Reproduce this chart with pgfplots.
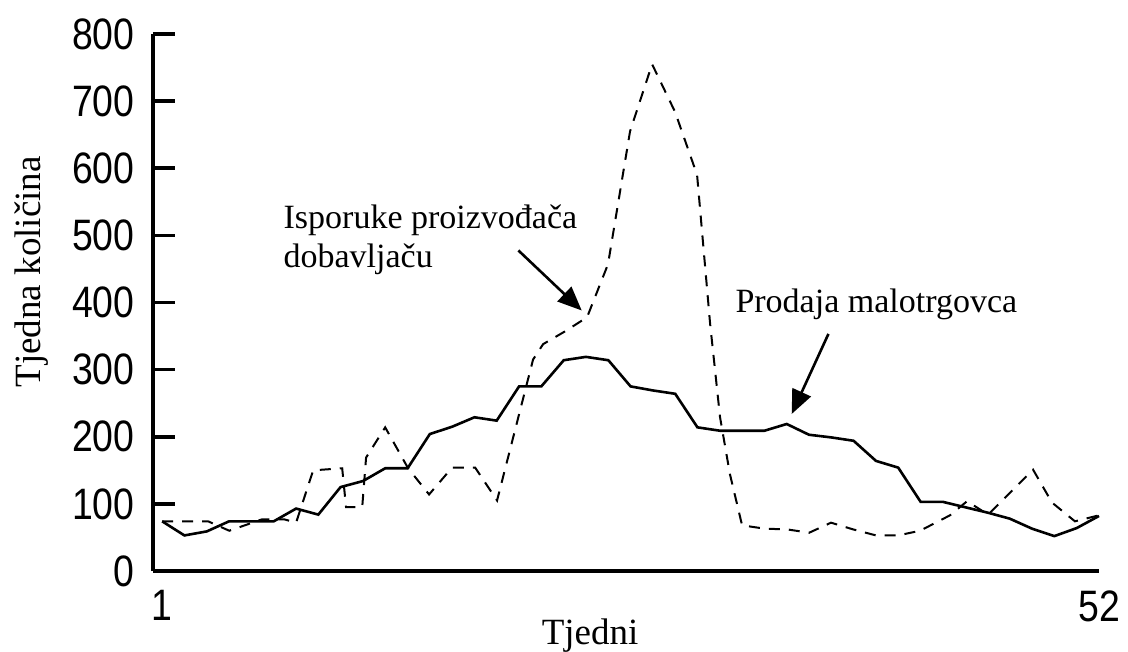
\documentclass[border=0pt]{standalone}
\usepackage{fontspec}
\setmainfont{Liberation Serif}
\newfontfamily\condfont[FakeStretch=0.85]{Liberation Sans}
\usepackage{pgfplots}
\pgfplotsset{compat=1.18}
\usetikzlibrary{arrows.meta}

\begin{document}
\begin{tikzpicture}
\begin{axis}[
  name=ax,
  scale only axis,
  width=473pt, height=268.5pt,
  xmin=0.5, xmax=52, ymin=0, ymax=800,
  axis x line=bottom, axis y line=left,
  axis line style={line width=1.8pt,-},
  xtick={1,52},
  ytick={0,100,...,800},
  tick align=inside,
  major tick length=11pt,
  ytick style={line width=1.8pt,black},
  xtick style={draw=none},
  /pgf/number format/assume math mode=true,
  ticklabel style={font=\condfont\fontsize{22}{22}\selectfont, inner sep=0pt},
  yticklabel style={anchor=east, xshift=-9pt},
  xticklabel style={anchor=north, yshift=-9.5pt},
  xlabel={Tjedni},
  ylabel={Tjedna količina},
  xlabel style={at={(axis description cs:0.462,-0.1378)}, anchor=base, font=\fontsize{18.5}{20}\selectfont},
  ylabel style={at={(axis description cs:-0.1184,0.557)}, anchor=base, font=\fontsize{18.5}{20}\selectfont},
  clip=false,
]
% Prodaja malotrgovca (solid)
\addplot[black, line width=1.3pt, line join=miter] coordinates {
(1,74) (2.21,53) (3.43,59) (4.64,74) (5.86,74) (7.07,74) (8.29,93) (9.50,84)
(10.71,125) (11.93,134) (13.14,153) (14.36,153) (15.57,204) (16.79,215) (18.00,229)
(19.21,224) (20.43,275) (21.64,275) (22.86,314) (24.07,319) (25.29,314) (26.50,275)
(27.71,269) (28.93,264) (30.14,214) (31.36,209) (32.57,209) (33.79,209) (35.00,219)
(36.21,203) (37.43,199) (38.64,194) (39.86,164) (41.07,154) (42.29,103) (43.50,103)
(44.71,95) (45.93,87) (47.14,78) (48.36,63) (49.57,52) (50.79,64) (52,82)
};
% Isporuke proizvodjaca dobavljacu (dashed)
\addplot[black, line width=1pt, dash pattern=on 5.5pt off 4.5pt] coordinates {
(1,74) (3.50,74) (4.65,60) (6.44,77) (7.64,77) (8.29,72) (9.22,150) (10.80,153)
(11.01,95) (11.89,95) (12.10,169) (13.14,214) (14.39,153) (15.53,114) (16.78,154)
(18.04,154) (19.23,105) (21.19,315) (21.74,338) (22.93,357) (24.13,378) (25.27,457)
(26.47,655) (27.67,755) (28.92,684) (30.12,590) (30.83,368) (31.37,229) (31.91,144)
(32.57,68) (33.82,63) (35.02,62) (36.22,57) (37.41,72) (38.61,62) (39.86,53)
(41.06,53) (42.26,60) (43.89,83) (44.82,104) (45.96,84) (48.41,151) (49.44,102)
(50.69,74) (52,83)
};
% annotations
\node[anchor=base west, inner sep=0pt, font=\fontsize{17}{19}\selectfont] at (axis cs:7.59,509.8) {Isporuke proizvođača};
\node[anchor=base west, inner sep=0pt, font=\fontsize{17}{19}\selectfont] at (axis cs:7.59,452.6) {dobavljaču};
\node[anchor=base west, inner sep=0pt, font=\fontsize{17}{19}\selectfont] at (axis cs:32.19,385.5) {Prodaja malotrgovca};
\draw[line width=1.3pt, -{Triangle[length=12pt,width=10pt]}] (axis cs:20.39,477.6) -- (axis cs:23.84,388.1);
\draw[line width=1.3pt, -{Triangle[length=12pt,width=10pt]}] (axis cs:37.27,353.2) -- (axis cs:35.27,233.9);
\end{axis}
\pgfresetboundingbox
\path[use as bounding box] ([xshift=-76.5pt,yshift=-40.5pt]ax.south west) rectangle ([xshift=14.5pt,yshift=17pt]ax.north east);
\end{tikzpicture}
\end{document}
